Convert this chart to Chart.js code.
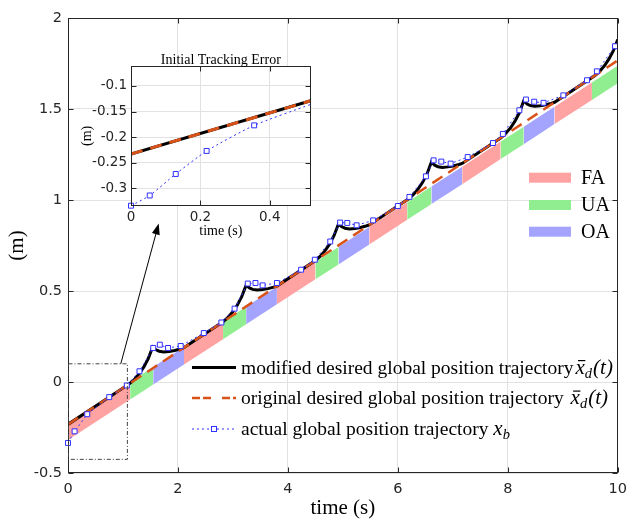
<!DOCTYPE html>
<html>
<head>
<meta charset="utf-8">
<script src="https://cdn.jsdelivr.net/npm/chart.js@4.4.1/dist/chart.umd.min.js"></script>
<style>
  html, body { margin: 0; padding: 0; background: #fff; }
  #wrap { position: relative; width: 635px; height: 521px; }
  #wrap canvas { position: absolute; left: 0; top: 0; }
</style>
</head>
<body>
<div id="wrap">
  <canvas id="mainChart" width="635" height="521"></canvas>
  <canvas id="insetChart" width="635" height="521"></canvas>
</div>
<script>
// original desired trajectory (straight line)
const desiredT = [0, 10];
const desiredY = [-0.233, 1.767];

// modified desired trajectory (black)
const modifiedT = [0,
  1.12, 1.21, 1.30, 1.38, 1.46, 1.54, 1.60, 1.66, 1.74, 1.84, 1.94, 2.04, 2.10,
  2.82, 2.91, 3.00, 3.08, 3.16, 3.24, 3.30, 3.36, 3.44, 3.54, 3.64, 3.74, 3.80,
  4.50, 4.59, 4.68, 4.76, 4.84, 4.92, 4.98, 5.04, 5.12, 5.22, 5.32, 5.42, 5.48,
  6.19, 6.28, 6.37, 6.45, 6.53, 6.61, 6.67, 6.73, 6.81, 6.91, 7.01, 7.11, 7.17,
  7.87, 7.96, 8.05, 8.13, 8.21, 8.29, 8.35, 8.41, 8.49, 8.59, 8.69, 8.79, 8.85,
  9.58, 9.67, 9.76, 9.84, 9.92, 10.0];
const modifiedY = [-0.233,
  -0.009, 0.015, 0.047, 0.083, 0.129, 0.192, 0.177, 0.169, 0.165, 0.168, 0.173, 0.181, 0.187,
  0.331, 0.355, 0.387, 0.423, 0.469, 0.532, 0.517, 0.509, 0.505, 0.508, 0.513, 0.521, 0.527,
  0.667, 0.691, 0.723, 0.759, 0.805, 0.868, 0.853, 0.845, 0.841, 0.844, 0.849, 0.857, 0.863,
  1.005, 1.029, 1.061, 1.097, 1.143, 1.209, 1.191, 1.183, 1.179, 1.182, 1.187, 1.195, 1.201,
  1.341, 1.365, 1.397, 1.433, 1.479, 1.545, 1.527, 1.519, 1.515, 1.518, 1.523, 1.531, 1.537,
  1.683, 1.707, 1.739, 1.775, 1.821, 1.882];

// actual trajectory markers (blue)
const actualT = [0, 0.12, 0.35, 0.75, 1.07, 1.30, 1.55, 1.67, 1.82, 2.05, 2.47, 2.79, 3.03,
  3.27, 3.41, 3.54, 3.80, 4.24, 4.49, 4.77, 4.95, 5.08, 5.25, 5.55, 6.00, 6.21, 6.51, 6.65,
  6.79, 6.96, 7.27, 7.73, 7.91, 8.21, 8.33, 8.48, 8.65, 9.01, 9.44, 9.62, 9.95];
const actualY = [-0.335, -0.271, -0.177, -0.083, -0.019, 0.059, 0.187, 0.205, 0.187, 0.198,
  0.269, 0.327, 0.403, 0.541, 0.544, 0.531, 0.544, 0.617, 0.672, 0.772, 0.876, 0.874, 0.861,
  0.888, 0.967, 1.017, 1.130, 1.218, 1.211, 1.200, 1.236, 1.313, 1.363, 1.493, 1.552, 1.540,
  1.534, 1.575, 1.658, 1.707, 1.845];

// phase band (FA / UA / OA)
const phaseTimes  = [0, 1.13, 1.55, 2.11, 2.82, 3.24, 3.80, 4.50, 4.92, 5.48, 6.17, 6.61, 7.17, 7.87, 8.29, 8.85, 9.53, 10];
const phaseTop    = [-0.222, 0.000, 0.082, 0.192, 0.331, 0.413, 0.523, 0.660, 0.742, 0.852, 0.987, 1.074, 1.183, 1.321, 1.403, 1.513, 1.646, 1.738];
const phaseBottom = [-0.318, -0.096, -0.014, 0.096, 0.235, 0.317, 0.427, 0.564, 0.646, 0.756, 0.891, 0.978, 1.087, 1.225, 1.307, 1.417, 1.550, 1.642];
const phaseNames  = ['FA', 'UA', 'OA', 'FA', 'UA', 'OA', 'FA', 'UA', 'OA', 'FA', 'UA', 'OA', 'FA', 'UA', 'OA', 'FA', 'UA'];
const phaseLabels = ['FA', 'UA', 'OA'];

// inset
const insetLineT = [0, 0.518];
const insetLineY = [-0.233, -0.129];
const insetActualT = [0, 0.054, 0.129, 0.218, 0.355, 0.518];
const insetActualY = [-0.334, -0.314, -0.272, -0.227, -0.177, -0.136];
const insetMarker  = [1, 1, 1, 1, 1, 0];

// zoom box and arrow (main axes units)
const zoomBoxT = [0, 1.08];
const zoomBoxY = [-0.425, 0.1];
const arrowFrom = [0.96, 0.1];
const arrowTo = [1.65, 0.871];

const BLUE = '#3030ff';
const ORANGE = '#D95319';
const AXIS = '#262626';
const GRID = '#e2e2e2';
const bandColors = { FA: '#ffa2a2', UA: '#90ee90', OA: '#a4a4ff' };
const serif = '"Liberation Serif", "Times New Roman", serif';
const sans = '"DejaVu Sans", sans-serif';

const pts = (ts, ys) => ts.map((t, i) => ({ x: t, y: ys[i] }));

function bandData(name, edge) {
  const out = [];
  for (let i = 0; i < phaseNames.length; i++) {
    if (phaseNames[i] !== name) continue;
    out.push({ x: phaseTimes[i], y: edge[i] }, { x: phaseTimes[i + 1], y: edge[i + 1] }, { x: phaseTimes[i + 1], y: null });
  }
  return out;
}

// box + inward ticks, like matlab axes
const boxPlugin = {
  id: 'box',
  beforeDraw(chart, args, opts) {
    if (!opts.white) return;
    const a = chart.chartArea, ctx = chart.ctx;
    ctx.save();
    ctx.fillStyle = '#fff';
    ctx.fillRect(a.left, a.top, a.right - a.left, a.bottom - a.top);
    ctx.restore();
  },
  afterDatasetsDraw(chart) {
    const { ctx, chartArea: a, scales: { x, y } } = chart;
    const L = Math.round(a.left) + 0.5, R = Math.round(a.right) - 0.5;
    const T = Math.round(a.top) + 0.5, B = Math.round(a.bottom) - 0.5;
    ctx.save();
    ctx.strokeStyle = AXIS;
    ctx.lineWidth = 1;
    ctx.strokeRect(L, T, R - L, B - T);
    ctx.beginPath();
    x.ticks.forEach(t => {
      const px = Math.round(x.getPixelForValue(t.value)) + 0.5;
      ctx.moveTo(px, B); ctx.lineTo(px, B - 5);
      ctx.moveTo(px, T); ctx.lineTo(px, T + 5);
    });
    y.ticks.forEach(t => {
      const py = Math.round(y.getPixelForValue(t.value)) + 0.5;
      ctx.moveTo(L, py); ctx.lineTo(L + 5, py);
      ctx.moveTo(R, py); ctx.lineTo(R - 5, py);
    });
    ctx.stroke();
    ctx.restore();
  }
};

function drawVar(ctx, x, base, sub, bar, tail) {
  ctx.font = 'italic 21px ' + serif;
  ctx.fillText('x', x, base);
  const wx = ctx.measureText('x').width;
  if (bar) ctx.fillRect(x + 2.5, base - 13.5, wx - 2, 1.2);
  x += wx;
  ctx.font = 'italic 14.5px ' + serif;
  ctx.fillText(sub, x, base + 4);
  x += ctx.measureText(sub).width;
  if (tail) {
    ctx.font = 'italic 21px ' + serif;
    ctx.fillText(tail, x + 1, base);
  }
}

const mainOverlay = {
  id: 'mainOverlay',
  afterDatasetsDraw(chart) {
    const { ctx, scales: { x, y } } = chart;
    ctx.save();
    // dash-dot zoom box
    const x0 = x.getPixelForValue(zoomBoxT[0]) + 0.5, x1 = x.getPixelForValue(zoomBoxT[1]);
    const y0 = y.getPixelForValue(zoomBoxY[1]), y1 = y.getPixelForValue(zoomBoxY[0]);
    ctx.strokeStyle = '#444';
    ctx.lineWidth = 1;
    ctx.setLineDash([4, 2, 1, 2]);
    ctx.strokeRect(x0, y0, x1 - x0, y1 - y0);
    ctx.setLineDash([]);
    // arrow
    const ax = x.getPixelForValue(arrowFrom[0]), ay = y.getPixelForValue(arrowFrom[1]);
    const bx = x.getPixelForValue(arrowTo[0]), by = y.getPixelForValue(arrowTo[1]);
    const ang = Math.atan2(by - ay, bx - ax);
    ctx.strokeStyle = '#000';
    ctx.beginPath(); ctx.moveTo(ax, ay); ctx.lineTo(bx - 8 * Math.cos(ang), by - 8 * Math.sin(ang)); ctx.stroke();
    ctx.fillStyle = '#000';
    ctx.beginPath();
    ctx.moveTo(bx, by);
    ctx.lineTo(bx - 11 * Math.cos(ang) + 4 * Math.sin(ang), by - 11 * Math.sin(ang) - 4 * Math.cos(ang));
    ctx.lineTo(bx - 11 * Math.cos(ang) - 4 * Math.sin(ang), by - 11 * Math.sin(ang) + 4 * Math.cos(ang));
    ctx.closePath(); ctx.fill();
    ctx.restore();
  },
  afterDraw(chart) {
    const ctx = chart.ctx;
    ctx.save();
    // phase legend
    const py = [177.7, 205, 231.7];
    ctx.textBaseline = 'middle';
    ctx.font = '20px ' + serif;
    phaseLabels.forEach((name, i) => {
      ctx.fillStyle = bandColors[name];
      ctx.fillRect(529, py[i] - 5, 42, 10);
      ctx.fillStyle = '#000';
      ctx.fillText(name, 581, py[i] + 1);
    });
    // line legend
    const rows = [367.5, 398, 429];
    ctx.lineWidth = 3; ctx.strokeStyle = '#000';
    ctx.beginPath(); ctx.moveTo(192, rows[0]); ctx.lineTo(236, rows[0]); ctx.stroke();
    ctx.lineWidth = 2.5; ctx.strokeStyle = ORANGE; ctx.setLineDash([8, 3, 8, 11]);
    ctx.beginPath(); ctx.moveTo(192, rows[1]); ctx.lineTo(236, rows[1]); ctx.stroke();
    ctx.lineWidth = 1; ctx.strokeStyle = BLUE; ctx.setLineDash([2, 3]);
    ctx.beginPath(); ctx.moveTo(192, rows[2]); ctx.lineTo(236, rows[2]); ctx.stroke();
    ctx.setLineDash([]);
    ctx.fillStyle = '#fff'; ctx.fillRect(211, rows[2] - 3, 6, 6);
    ctx.strokeRect(211.5, rows[2] - 2.5, 5, 5);

    ctx.fillStyle = '#000';
    ctx.textBaseline = 'alphabetic';
    const texts = ['modified desired global position trajectory', 'original desired global position trajectory ', 'actual global position trajectory '];
    texts.forEach((t, i) => {
      ctx.font = '19.5px ' + serif;
      const base = rows[i] + 6;
      ctx.fillText(t, 241, base);
      const w = ctx.measureText(t).width;
      if (i < 2) drawVar(ctx, 241 + w + 2, base, 'd', true, '(t)');
      else drawVar(ctx, 241 + w, base, 'b', false, '');
    });
    ctx.restore();
  }
};

const tickMain = { family: sans, size: 14.5 };

const mainDatasets = [
  { data: pts(actualT, actualY), borderColor: BLUE, borderWidth: 1, borderDash: [2, 3],
    pointStyle: 'rect', pointRadius: 3.5, pointBorderColor: BLUE, pointBackgroundColor: '#fff',
    pointBorderWidth: 1, fill: false, clip: false },
  { data: pts(desiredT, desiredY), borderColor: ORANGE, borderWidth: 2.5, borderDash: [12, 7], pointRadius: 0, fill: false },
  { data: pts(modifiedT, modifiedY), borderColor: '#000', borderWidth: 3, pointRadius: 0, fill: false }
];
phaseLabels.forEach(name => {
  mainDatasets.push({ data: bandData(name, phaseTop), borderColor: 'rgba(0,0,0,0)', borderWidth: 0,
    backgroundColor: bandColors[name], fill: '+1', pointRadius: 0, spanGaps: false });
  mainDatasets.push({ data: bandData(name, phaseBottom), borderColor: 'rgba(0,0,0,0)', borderWidth: 0,
    fill: false, pointRadius: 0, spanGaps: false });
});

new Chart(document.getElementById('mainChart'), {
  type: 'line',
  data: { datasets: mainDatasets },
  options: {
    responsive: false, animation: false, events: [],
    layout: { padding: { left: 0, right: 11, top: 18, bottom: 0 } },
    plugins: { legend: { display: false }, tooltip: { enabled: false }, box: { white: false } },
    scales: {
      x: {
        type: 'linear', min: 0, max: 10,
        afterFit: s => { s.height = 48; },
        ticks: { stepSize: 2, padding: 8, color: AXIS, font: tickMain, maxRotation: 0, callback: v => String(+v.toFixed(2)) },
        grid: { color: GRID, drawTicks: false },
        border: { display: false },
        title: { display: true, text: 'time (s)', color: '#000', font: { family: serif, size: 21 }, padding: { top: 0, bottom: 0 } }
      },
      y: {
        type: 'linear', min: -0.5, max: 2,
        afterFit: s => { s.width = 68; },
        ticks: { stepSize: 0.5, padding: 6, color: AXIS, font: tickMain, callback: v => String(+v.toFixed(2)) },
        grid: { color: GRID, drawTicks: false },
        border: { display: false },
        title: { display: true, text: '(m)', color: '#000', font: { family: serif, size: 21 }, padding: { top: 5, bottom: 0 } }
      }
    }
  },
  plugins: [boxPlugin, mainOverlay]
});

const insetTitle = {
  id: 'insetTitle',
  afterDraw(chart) {
    const { ctx, chartArea: a } = chart;
    ctx.save();
    ctx.font = '14px ' + serif;
    ctx.fillStyle = '#000';
    ctx.textAlign = 'center';
    ctx.textBaseline = 'alphabetic';
    ctx.fillText('Initial Tracking Error', (a.left + a.right) / 2, a.top - 2);
    ctx.restore();
  }
};

const tickInset = { family: sans, size: 13.5 };

new Chart(document.getElementById('insetChart'), {
  type: 'line',
  data: {
    datasets: [
      { data: pts(insetActualT, insetActualY), borderColor: BLUE, borderWidth: 1, borderDash: [2, 3],
        pointStyle: 'rect', pointRadius: insetMarker.map(m => m * 3.5), pointBorderColor: BLUE,
        pointBackgroundColor: '#fff', pointBorderWidth: 1, tension: 0.2, fill: false, clip: false },
      { data: pts(insetLineT, insetLineY), borderColor: ORANGE, borderWidth: 3, borderDash: [12, 8], pointRadius: 0, fill: false },
      { data: pts(insetLineT, insetLineY), borderColor: '#000', borderWidth: 3, pointRadius: 0, fill: false }
    ]
  },
  options: {
    responsive: false, animation: false, events: [],
    layout: { padding: { left: 79, right: 324.3, top: 66, bottom: 281.6 } },
    plugins: { legend: { display: false }, tooltip: { enabled: false }, box: { white: true } },
    scales: {
      x: {
        type: 'linear', min: 0, max: 0.518,
        afterFit: s => { s.height = 33.7; },
        ticks: { stepSize: 0.2, includeBounds: false, padding: 4, color: AXIS, font: tickInset, maxRotation: 0, callback: v => String(+v.toFixed(2)) },
        grid: { color: GRID, drawTicks: false },
        border: { display: false },
        title: { display: true, text: 'time (s)', color: '#000', font: { family: serif, size: 14 }, padding: { top: 0, bottom: 0 } }
      },
      y: {
        type: 'linear', min: -0.334, max: -0.061,
        afterFit: s => { s.width = 52; },
        ticks: { stepSize: 0.05, includeBounds: false, padding: 4, color: AXIS, font: tickInset, callback: v => String(+v.toFixed(2)) },
        grid: { color: GRID, drawTicks: false },
        border: { display: false },
        title: { display: true, text: '(m)', color: '#000', font: { family: serif, size: 14 }, padding: { top: 0, bottom: 0 } }
      }
    }
  },
  plugins: [boxPlugin, insetTitle]
});
</script>
</body>
</html>
